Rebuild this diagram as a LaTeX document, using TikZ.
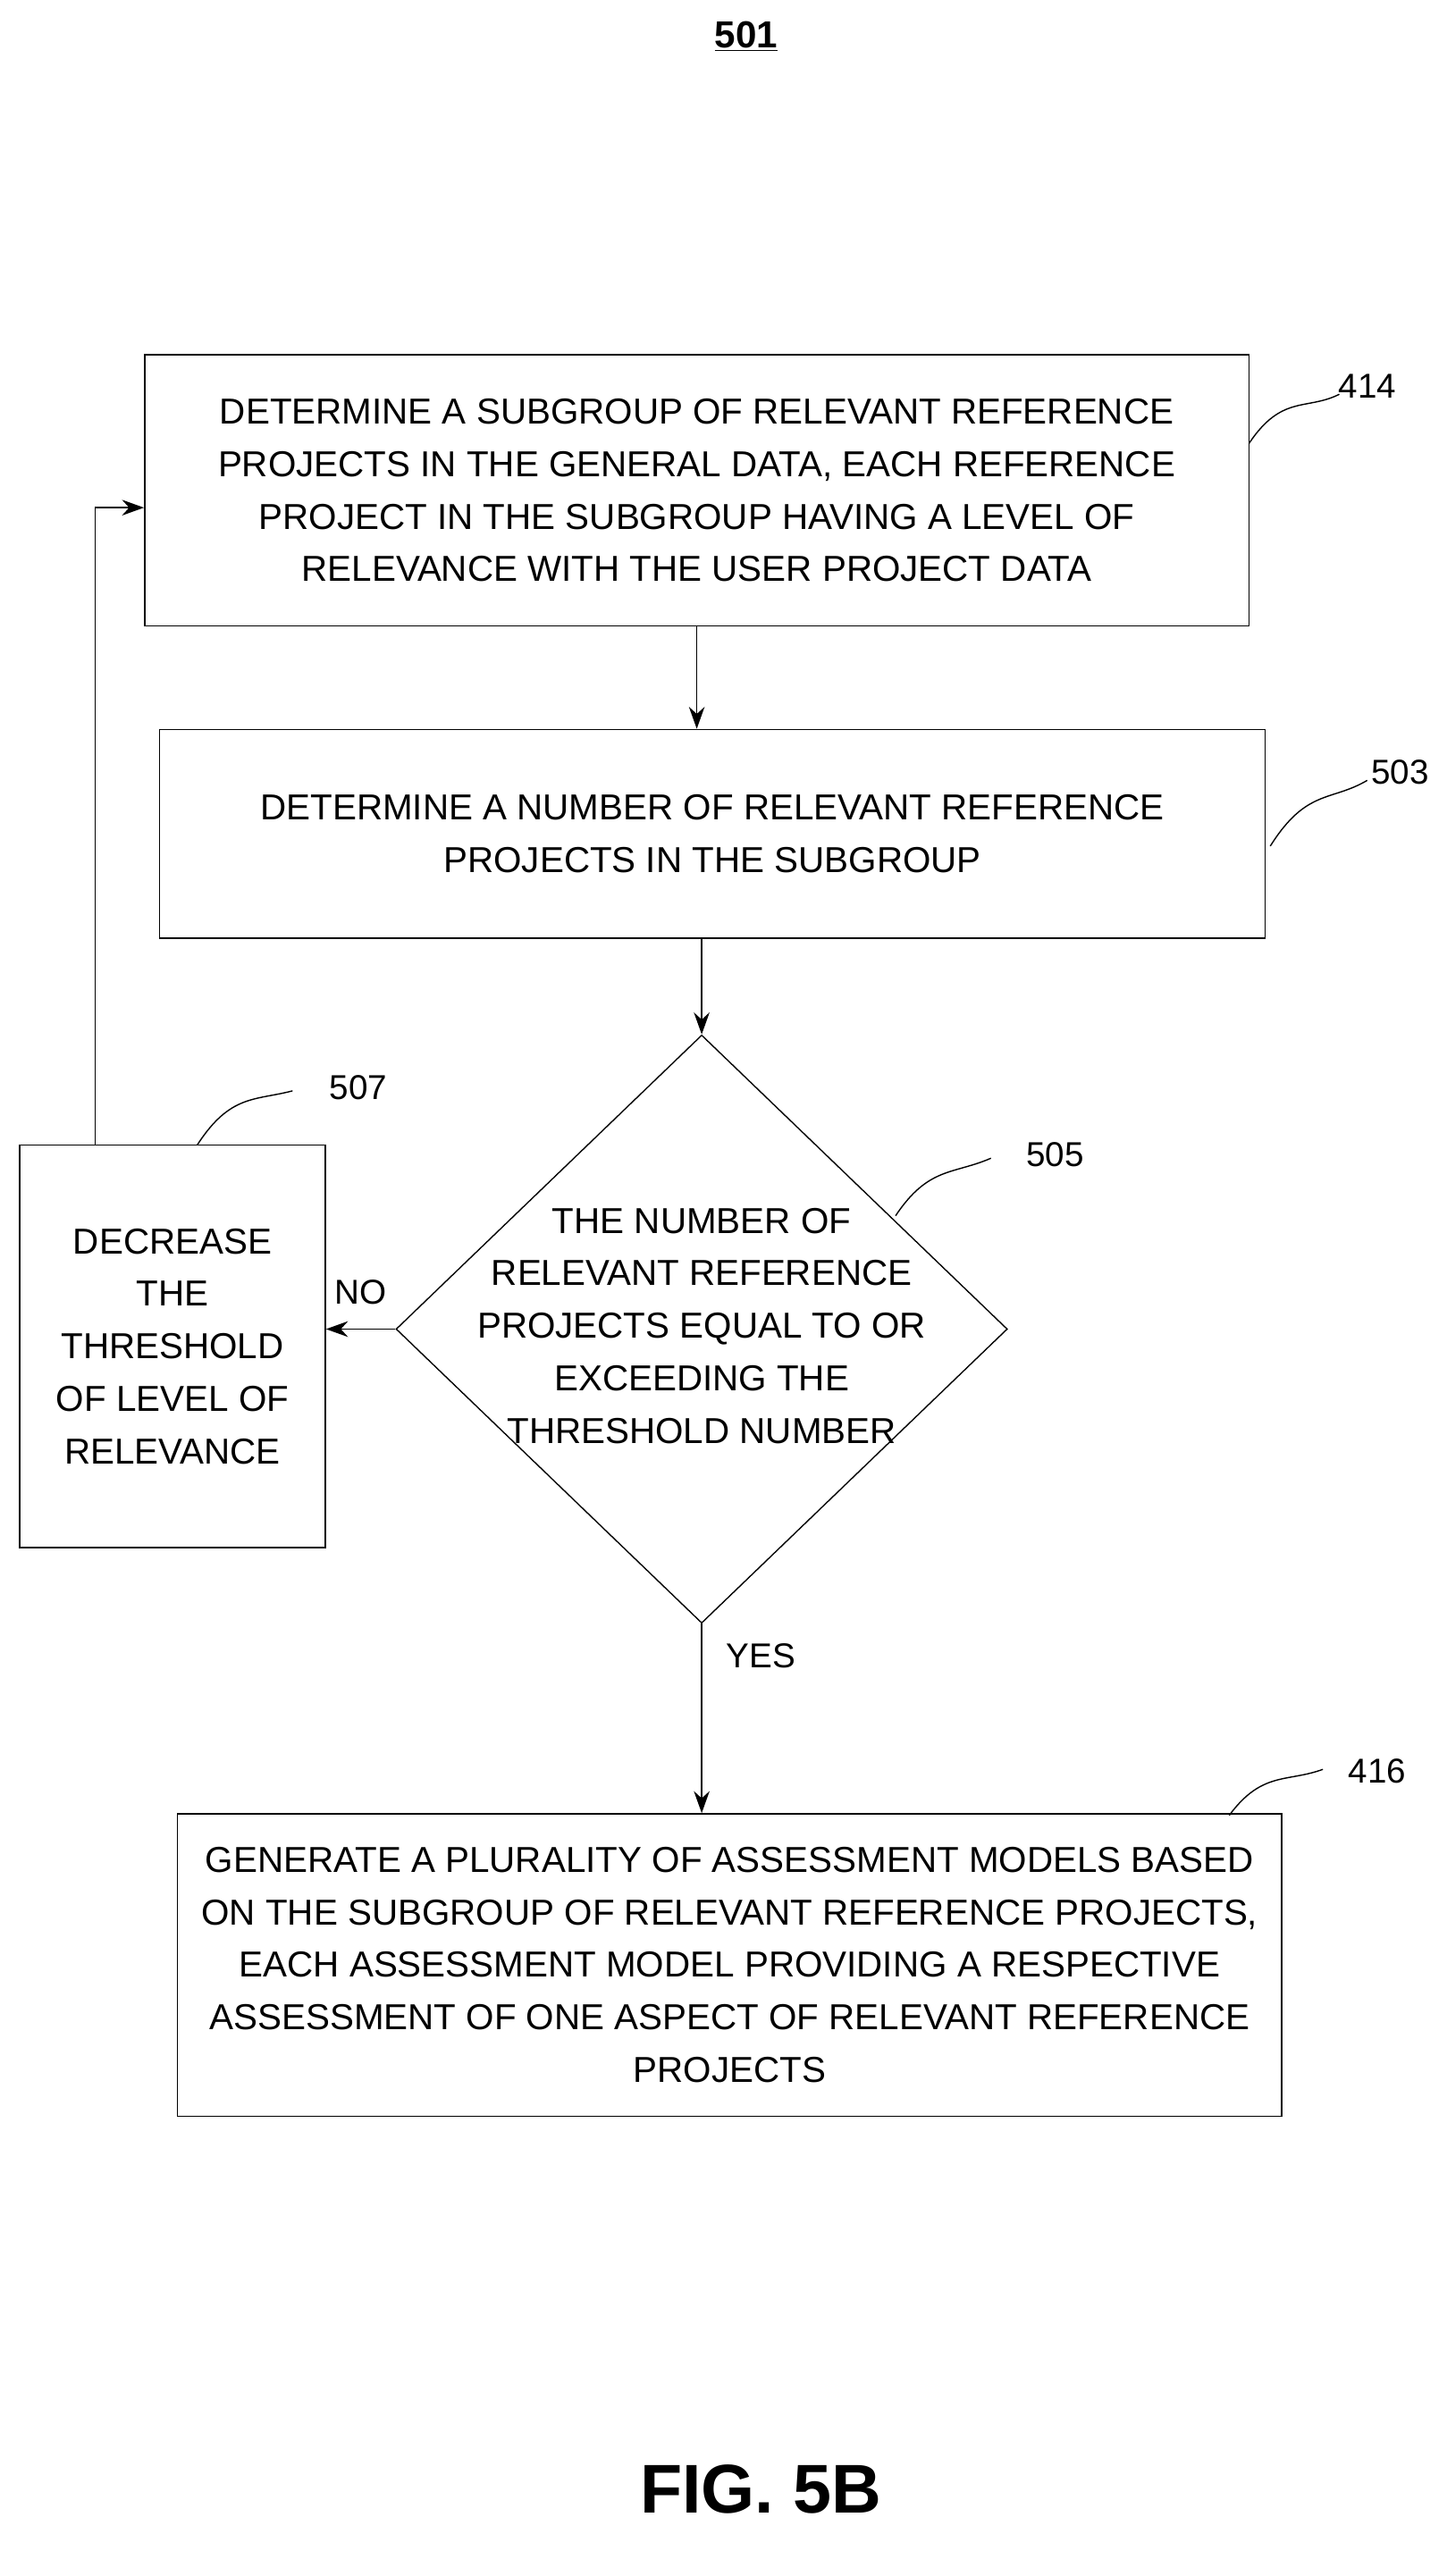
\documentclass[tikz,border=0pt]{standalone}
\usepackage{fontspec}
\setmainfont{Liberation Sans}
\usetikzlibrary{arrows.meta,shapes.geometric}
\tikzset{
  box/.style={draw,thick,align=center,inner sep=0pt,font=\fontsize{23}{33.5}\selectfont},
  lbl/.style={font=\fontsize{22}{26}\selectfont},
  flow/.style={thick,-{Stealth[length=14pt,width=10pt]}}
}
\begin{document}
\begin{tikzpicture}[x=0.0368cm,y=-0.0368cm]
        \useasboundingbox (0,0) rectangle (880,1568);
        % title
        \node[font=\bfseries\fontsize{24}{28}\selectfont] (title) at (454,22) {\underline{501}};

        % boxes
        \node[box,minimum width=672*0.0368cm,minimum height=165*0.0368cm] (b414) at (424,298.5)
          {DETERMINE A SUBGROUP OF RELEVANT REFERENCE\\PROJECTS IN THE GENERAL DATA, EACH REFERENCE\\PROJECT IN THE SUBGROUP HAVING A LEVEL OF\\RELEVANCE WITH THE USER PROJECT DATA};
        \node[box,minimum width=673*0.0368cm,minimum height=127*0.0368cm] (b503) at (433.5,507.5)
          {DETERMINE A NUMBER OF RELEVANT REFERENCE\\PROJECTS IN THE SUBGROUP};
        \node[draw,diamond,thick,minimum width=372*0.0368cm,minimum height=358*0.0368cm,inner sep=0pt,aspect=1.04] (d505) at (427,809) {};
        \node[box,draw=none] (t505) at (427,807)
          {THE NUMBER OF\\RELEVANT REFERENCE\\PROJECTS EQUAL TO OR\\EXCEEDING THE\\THRESHOLD NUMBER};
        \node[box,minimum width=186*0.0368cm,minimum height=245*0.0368cm] (b507) at (105,819.5)
          {DECREASE\\THE\\THRESHOLD\\OF LEVEL OF\\RELEVANCE};
        \node[box,minimum width=672*0.0368cm,minimum height=184*0.0368cm] (b416) at (444,1196)
          {GENERATE A PLURALITY OF ASSESSMENT MODELS BASED\\ON THE SUBGROUP OF RELEVANT REFERENCE PROJECTS,\\EACH ASSESSMENT MODEL PROVIDING A RESPECTIVE\\ASSESSMENT OF ONE ASPECT OF RELEVANT REFERENCE\\PROJECTS};

        % connectors
        \draw[flow] (b414.south) ++(0,0) coordinate (c1) -- (c1 |- b503.north);
        \draw[flow] (b503.south -| d505.north) -- (d505.north);
        \draw[flow] (d505.west) -- (d505.west -| b507.east) node[lbl,midway,above=12pt] (no) {NO};
        \coordinate (up) at (58,309);
        \draw[flow] (b507.north -| up) -- (up) -- (up -| b414.west);
        \draw[flow] (d505.south) -- (d505.south |- b416.north) node[lbl,pos=0.17,right=12pt] (yes) {YES};

        % reference numerals
        \node[lbl] (n414) at (832,235) {414};
        \node[lbl] (n503) at (852,470) {503};
        \node[lbl] (n505) at (642,703) {505};
        \node[lbl] (n507) at (218,662) {507};
        \node[lbl] (n416) at (838,1078) {416};
        \draw[thick] (760,270) .. controls (780,240) and (795,250) .. (815,240);
        \draw[thick] (773,515) .. controls (795,480) and (810,488) .. (832,475);
        \draw[thick] (545,740) .. controls (565,710) and (580,715) .. (603,705);
        \draw[thick] (120,697) .. controls (140,666) and (155,670) .. (178,664);
        \draw[thick] (748,1105) .. controls (768,1078) and (783,1085) .. (805,1077);

        \node[font=\bfseries\fontsize{44}{50}\selectfont] (fig) at (463,1515) {FIG. 5B};
\end{tikzpicture}
\end{document}
